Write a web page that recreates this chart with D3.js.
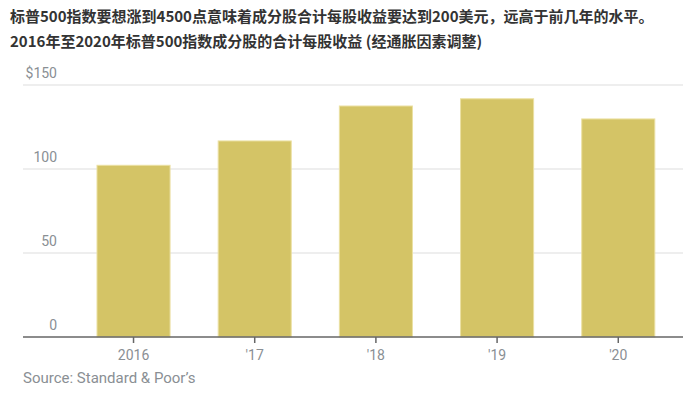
<!DOCTYPE html>
<html>
<head>
<meta charset="utf-8">
<script src="https://cdn.jsdelivr.net/npm/d3@7"></script>
<style>
  body { margin: 0; background: #fff; }
  svg { display: block; }
</style>
</head>
<body>
<div id="chart"></div>
<script>
const titles = [
  "标普500指数要想涨到4500点意味着成分股合计每股收益要达到200美元，远高于前几年的水平。",
  "2016年至2020年标普500指数成分股的合计每股收益 (经通胀因素调整)"
];
const years = ["2016", "'17", "'18", "'19", "'20"];
const eps = [102.2, 116.7, 137.5, 141.8, 129.8];
const yTicks = [0, 50, 100, 150];
const source = "Source: Standard & Poor’s";

const width = 683, height = 398;
const svg = d3.select("#chart").append("svg")
  .attr("width", width).attr("height", height);

svg.selectAll(".title")
  .data(titles)
  .enter().append("text")
  .attr("x", 10)
  .attr("y", (d, i) => 22 + i * 25)
  .attr("font-family", "'Noto Sans CJK SC', 'Noto Sans', sans-serif")
  .attr("font-weight", "bold")
  .attr("font-size", "15px")
  .attr("fill", "#333")
  .text(d => d);

const plotLeft = 23, plotRight = 683, plotTop = 85, plotBottom = 337;

const x = d3.scaleBand()
  .domain(years)
  .range([36.4, 715.4])
  .paddingInner(0.397)
  .paddingOuter(0.5);

const y = d3.scaleLinear().domain([0, 150]).range([plotBottom, plotTop]);

// gridlines + y labels
const grid = svg.append("g");
grid.selectAll("line")
  .data(yTicks.filter(d => d > 0))
  .enter().append("line")
  .attr("x1", plotLeft).attr("x2", plotRight)
  .attr("y1", d => y(d)).attr("y2", d => y(d))
  .attr("stroke", "#e8e8e8")
  .attr("stroke-width", 1.5);

grid.selectAll("text")
  .data(yTicks)
  .enter().append("text")
  .attr("x", 57)
  .attr("y", d => y(d) - 7)
  .attr("text-anchor", "end")
  .attr("font-family", "Roboto, sans-serif")
  .attr("font-size", "14px")
  .attr("fill", "#8a8f94")
  .text(d => d === 150 ? "$" + d : d);

// bars
svg.selectAll(".bar")
  .data(eps)
  .enter().append("rect")
  .attr("class", "bar")
  .attr("x", (d, i) => x(years[i]))
  .attr("width", x.bandwidth())
  .attr("y", d => y(d))
  .attr("height", d => y(0) - y(d))
  .attr("fill", "#d4c466")
  .attr("stroke", "#ebe0a2")
  .attr("stroke-width", 1);

// x axis
const xAxis = svg.append("g")
  .attr("transform", "translate(0," + plotBottom + ")");
xAxis.append("line")
  .attr("x1", plotLeft).attr("x2", plotRight)
  .attr("stroke", "#666").attr("stroke-width", 1.5);
xAxis.selectAll(".tick")
  .data(years)
  .enter().append("line")
  .attr("x1", d => x(d) + x.bandwidth() / 2)
  .attr("x2", d => x(d) + x.bandwidth() / 2)
  .attr("y1", 0).attr("y2", 6)
  .attr("stroke", "#666").attr("stroke-width", 1.5);
xAxis.selectAll("text")
  .data(years)
  .enter().append("text")
  .attr("x", d => x(d) + x.bandwidth() / 2)
  .attr("y", 23)
  .attr("text-anchor", "middle")
  .attr("font-family", "Roboto, sans-serif")
  .attr("font-size", "14px")
  .attr("fill", "#8a8f94")
  .text(d => d);

svg.append("text")
  .attr("x", 23)
  .attr("y", 383)
  .attr("font-family", "Roboto, sans-serif")
  .attr("font-size", "15px")
  .attr("fill", "#8a8f94")
  .text(source);
</script>
</body>
</html>
